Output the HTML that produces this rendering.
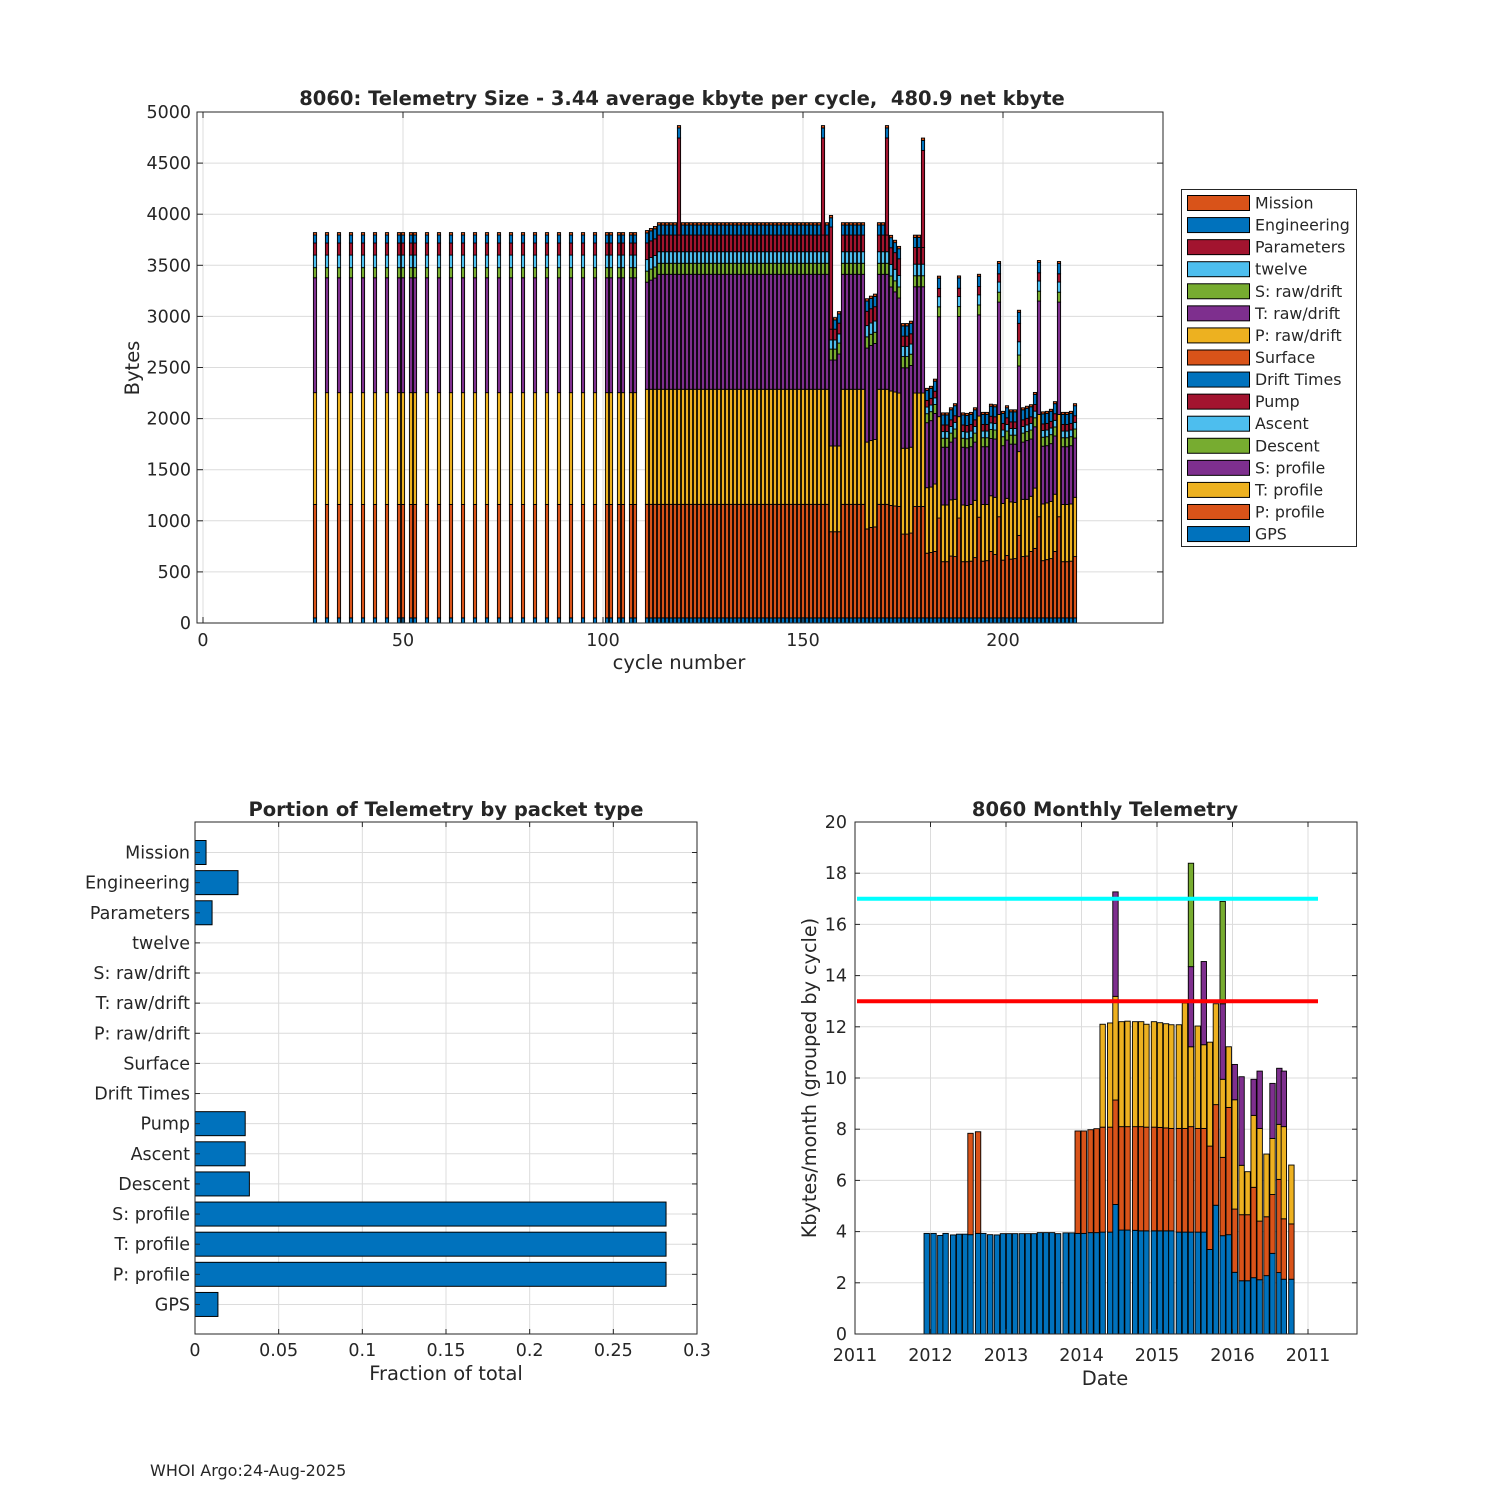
<!DOCTYPE html>
<html><head><meta charset="utf-8">
<style>
body{margin:0;background:#fff;}
svg{display:block;font-family:"DejaVu Sans","Liberation Sans",sans-serif;}
text{fill:#262626;}
</style></head>
<body>
<svg id="fig" width="1500" height="1500" viewBox="0 0 1500 1500" xmlns="http://www.w3.org/2000/svg">
<rect x="0" y="0" width="1500" height="1500" fill="#fff"/>
<g id="top"></g>
<g id="bl"></g>
<g id="br"></g>
<text x="150" y="1476" font-size="16">WHOI Argo:24-Aug-2025</text>
</svg>
<script>
// ---------- TOP CHART DATA ----------
const cycles=[28,31,34,37,40,43,46,49,50,52,53,56,59,62,65,68,71,74,77,80,83,86,89,92,95,98,101,102,104,105,107,108,
111,112,113,114,115,116,117,118,119,120,121,122,123,124,125,126,127,128,129,130,131,132,133,134,135,136,137,138,139,140,141,142,143,144,145,146,147,148,149,150,151,152,153,154,155,156,
157,158,159,160,161,162,163,164,165,166,167,168,169,170,171,172,173,174,175,176,177,178,179,180,
181,182,183,184,185,186,187,188,189,190,191,192,193,194,195,196,197,198,199,200,201,202,203,204,205,206,207,208,209,210,211,212,213,214,215,216,217,218];
const gpsVals=[50,50,50,50,50,50,50,50,50,50,50,50,50,50,50,50,50,50,50,50,50,50,50,50,50,50,50,50,50,50,50,50,
50,50,50,50,50,50,50,50,50,50,50,50,50,50,50,50,50,50,50,50,50,50,50,50,50,50,50,50,50,50,50,50,50,50,50,50,50,50,50,50,50,50,50,50,50,50,
50,50,50,50,50,50,50,50,50,50,50,50,50,50,50,50,50,50,50,50,50,50,50,50,
50,50,50,50,50,50,50,50,50,50,50,50,50,50,50,50,50,50,50,50,50,50,50,50,50,50,50,50,50,50,50,50,50,50,50,50,50,50];
const pProfile=[1110,1110,1110,1110,1110,1110,1110,1110,1110,1110,1110,1110,1110,1110,1110,1110,1110,1110,1110,1110,1110,1110,1110,1110,1110,1110,1110,1110,1110,1110,1110,1110,
1111,1111,1111,1111,1111,1111,1111,1111,1111,1111,1111,1111,1111,1111,1111,1111,1111,1111,1111,1111,1111,1111,1111,1111,1111,1111,1111,1111,1111,1111,1111,1111,1111,1111,1111,1111,1111,1111,1111,1111,1111,1111,1111,1111,1111,1111,
843,843,843,1111,1111,1111,1111,1111,1111,870,885,890,1111,1111,1111,1100,1095,1090,820,820,830,1090,1090,1090,
633,640,650,977,550,550,605,600,977,550,550,555,590,985,555,560,650,620,990,565,610,575,580,807,600,605,650,680,990,560,570,580,650,990,550,550,555,600];
const tProfile=[1094,1094,1094,1094,1094,1094,1094,1094,1094,1094,1094,1094,1094,1094,1094,1094,1094,1094,1094,1094,1094,1094,1094,1094,1094,1094,1094,1094,1094,1094,1094,1094,
1126,1126,1126,1126,1126,1126,1126,1126,1126,1126,1126,1126,1126,1126,1126,1126,1126,1126,1126,1126,1126,1126,1126,1126,1126,1126,1126,1126,1126,1126,1126,1126,1126,1126,1126,1126,1126,1126,1126,1126,1126,1126,1126,1126,1126,1126,
839,839,839,1126,1126,1126,1126,1126,1126,850,850,855,1126,1126,1126,1120,1115,1110,840,840,840,1110,1110,1110,
641,640,660,992,555,555,550,560,992,555,550,555,560,990,555,550,545,560,1000,555,560,560,550,820,560,555,540,590,1000,555,555,560,560,1000,560,560,560,580];
const sProfile=[1124,1124,1124,1124,1124,1124,1124,1124,1124,1124,1124,1124,1124,1124,1124,1124,1124,1124,1124,1124,1124,1124,1124,1124,1124,1124,1124,1124,1124,1124,1124,1124,
1048,1068,1088,1125,1125,1125,1125,1125,1125,1125,1125,1125,1125,1125,1125,1125,1125,1125,1125,1125,1125,1125,1125,1125,1125,1125,1125,1125,1125,1125,1125,1125,1125,1125,1125,1125,1125,1125,1125,1125,1125,1125,1125,1125,1125,1125,
841,841,900,1125,1125,1125,1125,1125,1125,920,930,940,1125,1125,1125,1018,980,930,787,787,800,1040,1040,1040,
636,650,690,978,565,565,565,600,980,565,565,565,570,990,565,565,560,570,1100,565,570,565,570,838,560,575,560,600,1110,565,560,565,570,1100,565,565,570,580];
const descentVals=[99,99,99,99,99,99,99,99,99,99,99,99,99,99,99,99,99,99,99,99,99,99,99,99,99,99,99,99,99,99,99,99,
108,108,108,108,108,108,108,108,108,108,108,108,108,108,108,108,108,108,108,108,108,108,108,108,108,108,108,108,108,108,108,108,108,108,108,108,108,108,108,108,108,108,108,108,108,108,
107,107,107,108,108,108,108,108,108,110,110,110,108,108,108,108,108,108,110,110,110,108,108,108,
88,88,88,97,88,88,88,88,97,88,88,88,88,97,88,88,88,88,97,88,88,88,88,107,88,88,88,88,97,88,88,88,88,97,88,88,88,88];
const ascentVals=[123,123,123,123,123,123,123,123,123,123,123,123,123,123,123,123,123,123,123,123,123,123,123,123,123,123,123,123,123,123,123,123,
113,113,113,113,113,113,113,113,113,113,113,113,113,113,113,113,113,113,113,113,113,113,113,113,113,113,113,113,113,113,113,113,113,113,113,113,113,113,113,113,113,113,113,113,113,113,
90,90,90,113,113,113,113,113,113,110,110,110,113,113,113,113,113,113,100,100,100,113,113,113,
65,65,65,99,65,65,65,65,99,65,65,65,65,99,65,65,65,65,99,65,65,65,65,130,65,65,65,65,99,65,65,65,65,99,65,65,65,65];
const pumpVals=[118,118,118,118,118,118,118,118,118,118,118,118,118,118,118,118,118,118,118,118,118,118,118,118,118,118,118,118,118,118,118,118,
163,163,163,163,163,163,163,163,163,163,163,163,163,163,163,163,163,163,163,163,163,163,163,163,163,163,163,163,163,163,163,163,163,163,163,163,163,163,163,163,163,163,163,163,163,163,
105,105,105,163,163,163,163,163,163,140,140,140,163,163,163,163,163,163,100,100,100,163,163,163,
65,65,65,81,65,65,65,65,81,65,65,65,65,81,65,65,65,65,81,65,65,65,65,180,65,65,65,65,81,65,65,65,65,81,65,65,65,65];
const paramVals=[0,0,0,0,0,0,0,0,0,0,0,0,0,0,0,0,0,0,0,0,0,0,0,0,0,0,0,0,0,0,0,0,
0,0,0,0,0,0,0,0,950,0,0,0,0,0,0,0,0,0,0,0,0,0,0,0,0,0,0,0,0,0,0,0,0,0,0,0,0,0,0,0,0,0,0,0,950,0,
1000,0,0,0,0,0,0,0,0,0,0,0,0,0,950,0,0,0,0,0,0,0,0,950,
0,0,0,0,0,0,0,0,0,0,0,0,0,0,0,0,0,0,0,0,0,0,0,0,0,0,0,0,0,0,0,0,0,0,0,0,0,0];
const engVals=[78,78,78,78,78,78,78,78,78,78,78,78,78,78,78,78,78,78,78,78,78,78,78,78,78,78,78,78,78,78,78,78,
98,98,98,98,98,98,98,98,98,98,98,98,98,98,98,98,98,98,98,98,98,98,98,98,98,98,98,98,98,98,98,98,98,98,98,98,98,98,98,98,98,98,98,98,98,98,
90,90,90,98,98,98,98,98,98,100,100,100,98,98,98,98,98,98,100,100,100,98,98,98,
98,98,98,100,98,98,98,98,100,98,98,98,98,100,98,98,98,98,100,98,98,98,98,108,98,98,98,98,100,98,98,98,98,100,98,98,98,98];
const missionVals=[24,24,24,24,24,24,24,24,24,24,24,24,24,24,24,24,24,24,24,24,24,24,24,24,24,24,24,24,24,24,24,24,
23,23,23,23,23,23,23,23,23,23,23,23,23,23,23,23,23,23,23,23,23,23,23,23,23,23,23,23,23,23,23,23,23,23,23,23,23,23,23,23,23,23,23,23,23,23,
23,23,23,23,23,23,23,23,23,23,23,23,23,23,23,23,23,23,23,23,23,23,23,23,
20,20,20,20,20,20,20,20,20,20,20,20,20,20,20,20,20,20,20,20,20,20,20,20,20,20,20,20,20,20,20,20,20,20,20,20,20,20];
const topYTicks=[0,500,1000,1500,2000,2500,3000,3500,4000,4500,5000];
const topXTicks=[0,50,100,150,200];

// ---------- BOTTOM-LEFT DATA ----------
const packetTypes=["Mission","Engineering","Parameters","twelve","S: raw/drift","T: raw/drift","P: raw/drift","Surface","Drift Times","Pump","Ascent","Descent","S: profile","T: profile","P: profile","GPS"];
const packetFractions=[0.0066,0.0257,0.0102,0,0,0,0,0,0,0.0300,0.0300,0.0325,0.2815,0.2815,0.2815,0.0137];
const fracTicks=[0,0.05,0.1,0.15,0.2,0.25,0.3];
const fracTickLabels=["0","0.05","0.1","0.15","0.2","0.25","0.3"];

// ---------- BOTTOM-RIGHT DATA ----------
const monthDates=[2011.95,2012.04,2012.13,2012.20,2012.30,2012.38,2012.46,2012.53,2012.63,2012.70,2012.79,2012.88,2012.96,2013.04,2013.12,2013.21,2013.29,2013.37,2013.45,2013.53,2013.61,2013.69,2013.79,2013.87,2013.95,2014.03,2014.12,2014.20,2014.28,2014.38,2014.45,2014.53,2014.61,2014.71,2014.79,2014.86,2014.96,2015.04,2015.12,2015.19,2015.29,2015.37,2015.45,2015.54,2015.62,2015.70,2015.78,2015.87,2015.95,2016.03,2016.12,2016.20,2016.28,2016.36,2016.45,2016.53,2016.62,2016.68,2016.78];
const monthBlue=[3.93,3.93,3.85,3.93,3.87,3.9,3.9,3.88,3.93,3.93,3.88,3.87,3.92,3.92,3.92,3.92,3.92,3.92,3.96,3.96,3.96,3.92,3.95,3.95,3.93,3.93,3.96,3.96,3.98,3.98,5.06,4.06,4.06,4.05,4.03,4.03,4.03,4.03,4.03,4.03,3.98,3.98,3.98,3.98,3.98,3.3,5.03,3.84,3.88,2.41,2.08,2.08,2.2,2.12,2.28,3.15,2.4,2.14,2.14];
const monthOrange=[0,0,0,0,0,0,0,3.96,3.97,0,0,0,0,0,0,0,0,0,0,0,0,0,0,0,4.0,4.0,4.02,4.06,4.1,4.1,4.08,4.04,4.04,4.05,4.07,4.05,4.05,4.04,4.02,4.0,4.05,4.05,4.12,4.05,4.05,4.04,3.93,3.06,4.97,2.47,2.58,2.58,3.53,2.29,2.3,2.3,3.64,2.36,2.16];
const monthYellow=[0,0,0,0,0,0,0,0,0,0,0,0,0,0,0,0,0,0,0,0,0,0,0,0,0,0,0,0,4.02,4.07,4.05,4.1,4.12,4.1,4.1,4.02,4.12,4.09,4.07,4.05,4.05,4.9,3.12,4.0,3.27,4.06,3.94,3.05,2.37,4.27,1.93,1.68,2.81,3.62,2.45,2.19,2.15,3.6,2.3];
const monthPurple=[0,0,0,0,0,0,0,0,0,0,0,0,0,0,0,0,0,0,0,0,0,0,0,0,0,0,0,0,0,0,4.08,0,0,0,0,0,0,0,0,0,0,0,3.13,0,3.25,0,0,2.95,0,1.38,3.46,0,1.41,2.24,0,2.15,2.19,2.17,0];
const monthGreen=[0,0,0,0,0,0,0,0,0,0,0,0,0,0,0,0,0,0,0,0,0,0,0,0,0,0,0,0,0,0,0,0,0,0,0,0,0,0,0,0,0,0,4.04,0,0,0,0,4.0,0,0,0,0,0,0,0,0,0,0,0];
const limitHigh=17, limitLow=13;
const kbTicks=[0,2,4,6,8,10,12,14,16,18,20];
const yearTicks=[2011,2012,2013,2014,2015,2016,2017];
const yearTickLabels=["2011","2012","2013","2014","2015","2016","2011"];

const NS="http://www.w3.org/2000/svg";
function mk(parent,tag,attrs,txt){const e=document.createElementNS(NS,tag);for(const k in attrs)e.setAttribute(k,attrs[k]);if(txt!==undefined)e.textContent=txt;parent.appendChild(e);return e;}
const C={blue:"#0072BD",orange:"#D95319",yellow:"#EDB120",purple:"#7E2F8E",green:"#77AC30",cyan:"#4DBEEE",red:"#A2142F"};

// ================= TOP CHART =================
(function(){
const g=document.getElementById('top');
const L=197,R=1163,T=112,B=623;
const xs=c=>203+4*c, ys=v=>623-v*(511/5000);
mk(g,'rect',{x:L,y:T,width:R-L,height:B-T,fill:'#fff'});
topYTicks.forEach(v=>{const l=mk(g,'line',{x1:L,x2:R,y1:ys(v),y2:ys(v),stroke:'#dcdcdc','stroke-width':1});
});
topXTicks.forEach(v=>{const l=mk(g,'line',{x1:xs(v),x2:xs(v),y1:T,y2:B,stroke:'#dcdcdc','stroke-width':1});
});
const layers=[[gpsVals,C.blue,'gps'],[pProfile,C.orange,'p-profile'],[tProfile,C.yellow,'t-profile'],[sProfile,C.purple,'s-profile'],[descentVals,C.green,'descent'],[ascentVals,C.cyan,'ascent'],[pumpVals,C.red,'pump'],[paramVals,C.red,'parameters'],[engVals,C.blue,'engineering'],[missionVals,C.orange,'mission']];
cycles.forEach((c,i)=>{
 let base=0;
 layers.forEach(([arr,col,nm])=>{
  const v=arr[i]; if(!v)return;
  const y0=ys(base), y1=ys(base+v);
  const r=mk(g,'rect',{x:xs(c)-1.6,y:y1,width:3.2,height:y0-y1,fill:col,stroke:'#000','stroke-width':0.9});
  
  
  base+=v;
 });
});
mk(g,'rect',{x:L,y:T,width:R-L,height:B-T,fill:'none',stroke:'#262626','stroke-width':1});
topYTicks.forEach(v=>{
 mk(g,'line',{x1:L,x2:L+6,y1:ys(v),y2:ys(v),stroke:'#262626'});
 mk(g,'line',{x1:R,x2:R-6,y1:ys(v),y2:ys(v),stroke:'#262626'});
 const t=mk(g,'text',{x:L-6,y:ys(v)+6,'text-anchor':'end','font-size':17.5},String(v));
 
});
topXTicks.forEach(v=>{
 mk(g,'line',{x1:xs(v),x2:xs(v),y1:B,y2:B-6,stroke:'#262626'});
 mk(g,'line',{x1:xs(v),x2:xs(v),y1:T,y2:T+6,stroke:'#262626'});
 const t=mk(g,'text',{x:xs(v),y:B+23,'text-anchor':'middle','font-size':17.5},String(v));
 
});
let t=mk(g,'text',{x:682,y:105,'text-anchor':'middle','font-size':19.5,'font-weight':'bold',fill:'#000'},'8060: Telemetry Size - 3.44 average kbyte per cycle,  480.9 net kbyte');
t.setAttribute('style','white-space:pre');

t=mk(g,'text',{x:679,y:669,'text-anchor':'middle','font-size':19.5},'cycle number');

t=mk(g,'text',{x:139,y:368,'text-anchor':'middle','font-size':19.5,transform:'rotate(-90 139 368)'},'Bytes');

// legend
const lg=mk(g,'g',{});

mk(lg,'rect',{x:1181.5,y:189.5,width:175,height:357,fill:'#fff',stroke:'#262626','stroke-width':1});
const legNames=["Mission","Engineering","Parameters","twelve","S: raw/drift","T: raw/drift","P: raw/drift","Surface","Drift Times","Pump","Ascent","Descent","S: profile","T: profile","P: profile","GPS"];
const legCols=[C.orange,C.blue,C.red,C.cyan,C.green,C.purple,C.yellow,C.orange,C.blue,C.red,C.cyan,C.green,C.purple,C.yellow,C.orange,C.blue];
legNames.forEach((n,i)=>{
 const y=203+i*22.07;
 const e=mk(lg,'g',{});
 
 mk(e,'rect',{x:1187.5,y:y-7.5,width:62,height:15,fill:legCols[i],stroke:'#000','stroke-width':1});
 mk(e,'text',{x:1255,y:y+5.5,'font-size':15.8},n);
});
})();

// ================= BOTTOM LEFT =================
(function(){
const g=document.getElementById('bl');
const L=195,R=697,T=822,B=1334;
const xs=v=>L+v*(R-L)/0.3, ys=i=>852.5+i*30.13;
fracTicks.forEach(v=>{const l=mk(g,'line',{x1:xs(v),x2:xs(v),y1:T,y2:B,stroke:'#dcdcdc'});
});
packetTypes.forEach((n,i)=>{const l=mk(g,'line',{x1:L,x2:R,y1:ys(i),y2:ys(i),stroke:'#dcdcdc'});
});
packetFractions.forEach((v,i)=>{
 if(v<=0)return;
 const r=mk(g,'rect',{x:L,y:ys(i)-12,width:xs(v)-L,height:24,fill:C.blue,stroke:'#000','stroke-width':1});
 
 
});
mk(g,'rect',{x:L,y:T,width:R-L,height:B-T,fill:'none',stroke:'#262626'});
packetTypes.forEach((n,i)=>{
 mk(g,'line',{x1:L,x2:L+5,y1:ys(i),y2:ys(i),stroke:'#262626'});
 mk(g,'line',{x1:R,x2:R-5,y1:ys(i),y2:ys(i),stroke:'#262626'});
 const t=mk(g,'text',{x:L-5,y:ys(i)+6,'text-anchor':'end','font-size':17.5},n);
 
});
fracTicks.forEach((v,i)=>{
 mk(g,'line',{x1:xs(v),x2:xs(v),y1:B,y2:B-5,stroke:'#262626'});
 mk(g,'line',{x1:xs(v),x2:xs(v),y1:T,y2:T+5,stroke:'#262626'});
 const t=mk(g,'text',{x:xs(v),y:B+22,'text-anchor':'middle','font-size':17.5},fracTickLabels[i]);
 
});
let t=mk(g,'text',{x:446,y:816,'text-anchor':'middle','font-size':19.5,'font-weight':'bold',fill:'#000'},'Portion of Telemetry by packet type');

t=mk(g,'text',{x:446,y:1380,'text-anchor':'middle','font-size':19.5},'Fraction of total');

})();

// ================= BOTTOM RIGHT =================
(function(){
const g=document.getElementById('br');
const L=855,R=1357,T=822,B=1334;
const xs=yr=>855+(yr-2011)*75.5, ys=v=>B-v*25.6;
kbTicks.forEach(v=>{const l=mk(g,'line',{x1:L,x2:R,y1:ys(v),y2:ys(v),stroke:'#dcdcdc'});
});
yearTicks.forEach(v=>{const l=mk(g,'line',{x1:xs(v),x2:xs(v),y1:T,y2:B,stroke:'#dcdcdc'});
});
const layers=[[monthBlue,C.blue,'blue'],[monthOrange,C.orange,'orange'],[monthYellow,C.yellow,'yellow'],[monthPurple,C.purple,'purple'],[monthGreen,C.green,'green']];
monthDates.forEach((d,i)=>{
 let base=0;
 layers.forEach(([arr,col,nm])=>{
  const v=arr[i]; if(!v)return;
  const r=mk(g,'rect',{x:xs(d)-2.7,y:ys(base+v),width:5.4,height:v*25.6,fill:col,stroke:'#000','stroke-width':0.9});
  
  
  base+=v;
 });
});
let l=mk(g,'line',{x1:857,x2:1318,y1:ys(limitHigh),y2:ys(limitHigh),stroke:'#00FFFF','stroke-width':4});

l=mk(g,'line',{x1:857,x2:1318,y1:ys(limitLow),y2:ys(limitLow),stroke:'#FF0000','stroke-width':4});

mk(g,'rect',{x:L,y:T,width:R-L,height:B-T,fill:'none',stroke:'#262626'});
kbTicks.forEach(v=>{
 mk(g,'line',{x1:L,x2:L+5,y1:ys(v),y2:ys(v),stroke:'#262626'});
 mk(g,'line',{x1:R,x2:R-5,y1:ys(v),y2:ys(v),stroke:'#262626'});
 const t=mk(g,'text',{x:L-8,y:ys(v)+6,'text-anchor':'end','font-size':17.5},String(v));
 
});
yearTicks.forEach((v,i)=>{
 mk(g,'line',{x1:xs(v),x2:xs(v),y1:B,y2:B-5,stroke:'#262626'});
 mk(g,'line',{x1:xs(v),x2:xs(v),y1:T,y2:T+5,stroke:'#262626'});
 const t=mk(g,'text',{x:xs(v),y:B+27,'text-anchor':'middle','font-size':17.5},yearTickLabels[i]);
 
});
let t=mk(g,'text',{x:1105,y:816,'text-anchor':'middle','font-size':19.5,'font-weight':'bold',fill:'#000'},'8060 Monthly Telemetry');

t=mk(g,'text',{x:1105,y:1385,'text-anchor':'middle','font-size':19.5},'Date');

t=mk(g,'text',{x:816,y:1078,'text-anchor':'middle','font-size':19.2,transform:'rotate(-90 816 1078)'},'Kbytes/month (grouped by cycle)');

})();
</script>
</body></html>
